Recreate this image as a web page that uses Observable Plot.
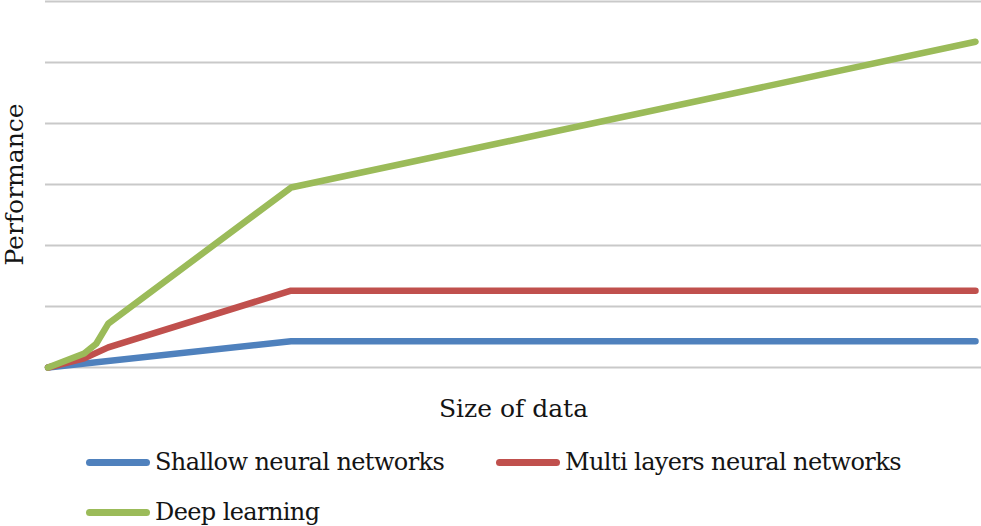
<!DOCTYPE html>
<html>
<head>
<meta charset="utf-8">
<script src="https://cdn.jsdelivr.net/npm/d3@7"></script>
<script src="https://cdn.jsdelivr.net/npm/@observablehq/plot@0.6"></script>
<style>
  html, body { margin: 0; padding: 0; background: #fff; }
  #wrap { width: 981px; font-family: "DejaVu Serif", serif; color: #141414; }
  #legend { position: relative; width: 981px; height: 96px; }
  .item { position: absolute; display: flex; align-items: center; height: 30px; font-size: 24px; letter-spacing: -0.6px; white-space: nowrap; }
  .swatch { width: 64px; height: 7px; border-radius: 3.5px; margin-right: 5px; }
</style>
</head>
<body>
<div id="wrap"></div>
<script>
// Series names and colours
const seriesNames = ["Shallow neural networks", "Multi layers neural networks", "Deep learning"];
const seriesColors = ["#4f81bd", "#c0504d", "#9bbb59"];

// Values (x: size of data, relative units; y: performance)
const shallowX = [0, 26.2, 100];
const shallowY = [0, 0.43, 0.43];
const multiX = [0, 3.9, 6.5, 26.2, 100];
const multiY = [0, 0.15, 0.33, 1.26, 1.26];
const deepX = [0, 3.9, 5.2, 6.5, 26.2, 100];
const deepY = [0, 0.23, 0.39, 0.72, 2.95, 5.34];

// Gridline values
const yGrid = [0, 1, 2, 3, 4, 5, 6];

const table = [];
[[shallowX, shallowY], [multiX, multiY], [deepX, deepY]].forEach(([xs, ys], i) => {
  xs.forEach((x, j) => table.push({series: seriesNames[i], size: x, perf: ys[j]}));
});

const chart = Plot.plot({
  width: 981,
  height: 430,
  marginTop: 1,
  marginBottom: 63,
  marginLeft: 45,
  marginRight: 0,
  insetLeft: 2.5,
  insetRight: 6,
  style: {fontFamily: "DejaVu Serif, serif", fontSize: "24px", color: "#141414", background: "#fff"},
  x: {domain: [0, 100]},
  y: {domain: [0, 6]},
  color: {domain: seriesNames, range: seriesColors},
  marks: [
    Plot.ruleY(yGrid, {stroke: "#c9c9c9", strokeWidth: 2}),
    Plot.axisX({ticks: [], tickSize: 0, label: "Size of data", labelAnchor: "center", labelArrow: "none", labelOffset: 49, fontSize: 25}),
    Plot.axisY({ticks: [], tickSize: 0, label: "Performance", labelAnchor: "center", labelArrow: "none", labelOffset: 40, fontSize: 25}),
    Plot.line(table, {x: "size", y: "perf", z: "series", stroke: "series", strokeWidth: 6.5, strokeLinecap: "round", strokeLinejoin: "round", curve: "linear"})
  ]
});

const wrap = document.getElementById("wrap");
wrap.appendChild(chart);

const legend = document.createElement("div");
legend.id = "legend";
const positions = [[86, 17], [496, 17], [86, 67]];
seriesNames.forEach((name, i) => {
  const item = document.createElement("div");
  item.className = "item";
  item.style.left = positions[i][0] + "px";
  item.style.top = positions[i][1] + "px";
  const sw = document.createElement("span");
  sw.className = "swatch";
  sw.style.background = seriesColors[i];
  const tx = document.createElement("span");
  tx.textContent = name;
  item.appendChild(sw);
  item.appendChild(tx);
  legend.appendChild(item);
});
wrap.appendChild(legend);
</script>
</body>
</html>
